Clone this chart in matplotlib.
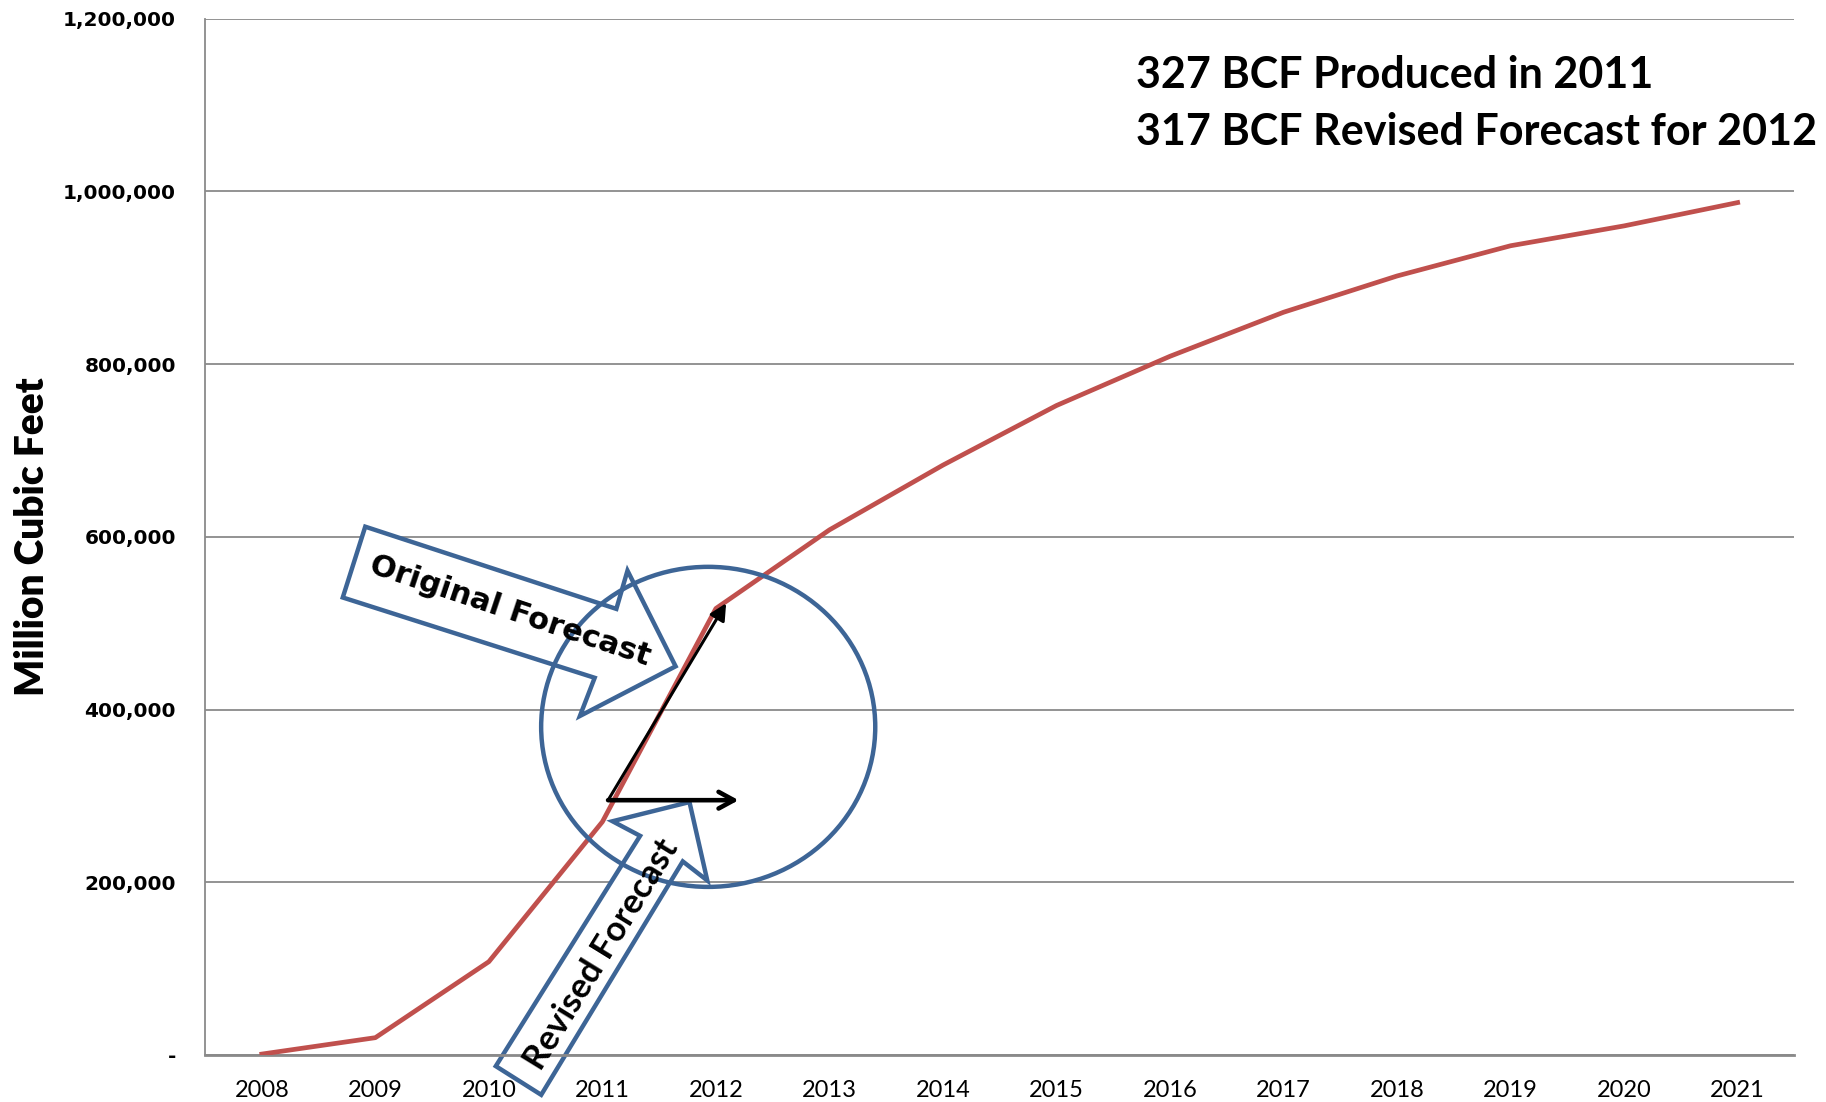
import numpy as np
import matplotlib
matplotlib.use("Agg")
import matplotlib.pyplot as plt
from matplotlib.patches import Polygon, Ellipse, FancyArrowPatch
from matplotlib.ticker import FuncFormatter

years = ["2008", "2009", "2010", "2011", "2012", "2013", "2014",
         "2015", "2016", "2017", "2018", "2019", "2020", "2021"]
volume = [1000, 20000, 108000, 270000, 517000, 608000, 683000,
          752000, 809000, 860000, 902000, 937000, 960000, 987000]

headline = ["327 BCF Produced in 2011", "317 BCF Revised Forecast for 2012"]

red = "#C0504D"
blue = "#3D6596"
grey = "#8A8A8A"

fig = plt.figure(figsize=(18.26, 11.02), dpi=100)
ax = fig.add_axes([0.1123, 0.0427, 0.8704, 0.9404])

x = np.arange(len(years))
ax.set_xlim(-0.5, len(years) - 0.5)
ax.set_ylim(0, 1200000)
ax.set_yticks(np.arange(0, 1200001, 200000))
ax.yaxis.set_major_formatter(FuncFormatter(lambda v, p: "-" if v == 0 else f"{v:,.0f}"))
ax.set_xticks(x)
ax.set_xticklabels(years, family="Lato", fontsize=17)
for lab in ax.get_yticklabels():
    lab.set_fontweight("bold")
    lab.set_fontsize(14.5)
    lab.set_family("DejaVu Sans")
ax.tick_params(axis="x", length=0, pad=18)
ax.tick_params(axis="y", length=0, pad=21)

ax.grid(axis="y", color=grey, linewidth=1.3, zorder=0)
ax.set_axisbelow(True)
for s in ["top", "right"]:
    ax.spines[s].set_visible(False)
ax.spines["left"].set_color(grey)
ax.spines["left"].set_linewidth(1.3)
ax.spines["bottom"].set_color(grey)
ax.spines["bottom"].set_linewidth(2)

ax.set_ylabel("Million Cubic Feet", family="Lato", fontweight="heavy", fontsize=28)
ax.yaxis.set_label_coords(-0.097, 0.5)

# block arrows (positions in category index / value units)
orig_arrow = [(0.911, 611700), (3.123, 516500), (3.221, 560800), (3.645, 450000),
              (2.802, 392500), (2.932, 436700), (0.713, 529700)]
rev_arrow = [(2.061, -12970), (2.461, -46200), (3.708, 224100), (3.924, 202000),
             (3.767, 292800), (3.089, 270600), (3.332, 253700)]
for pts in [orig_arrow, rev_arrow]:
    ax.add_patch(Polygon(pts, closed=True, facecolor="white", edgecolor=blue,
                         linewidth=3.2, zorder=2, clip_on=False, joinstyle="miter"))

ax.plot(x, volume, color=red, linewidth=3.4, zorder=3)

ax.add_patch(Ellipse((3.932, 379900), 2.943, 370600, facecolor="none",
                     edgecolor=blue, linewidth=3.2, zorder=4))

ax.add_patch(FancyArrowPatch((3.05, 295000), (4.09, 523100), arrowstyle="-|>,head_length=10,head_width=5",
                             color="black", linewidth=2.2, zorder=5, shrinkA=0, shrinkB=0))
ax.add_patch(FancyArrowPatch((3.05, 295000), (4.20, 295000), arrowstyle="->,head_length=11,head_width=6",
                             color="black", linewidth=3.3, zorder=5, shrinkA=0, shrinkB=0))

ax.text(2.183, 514200, "Original Forecast", rotation=-18.5, rotation_mode="anchor",
        ha="center", va="center", fontsize=22, fontweight="bold", family="DejaVu Sans", zorder=6)
ax.text(2.99, 116900, "Revised Forecast", rotation=58.4, rotation_mode="anchor",
        ha="center", va="center", fontsize=25, fontweight="bold", family="Lato", zorder=6)

fig.text(1136.5 / 1826, 1 - 75 / 1102, headline[0], fontsize=31, fontweight="bold",
         family="Lato", va="center", ha="left")
fig.text(1136.5 / 1826, 1 - 132 / 1102, headline[1], fontsize=31, fontweight="bold",
         family="Lato", va="center", ha="left")

fig.savefig("out.png", dpi=100)
